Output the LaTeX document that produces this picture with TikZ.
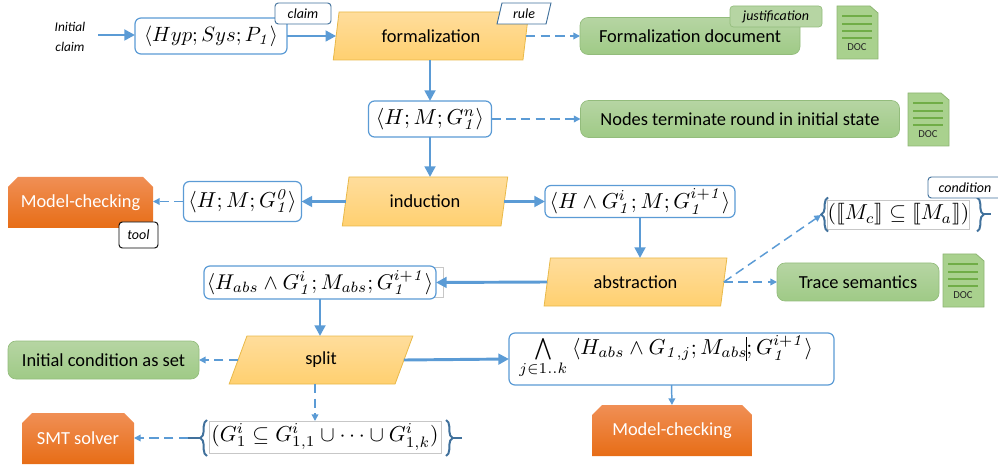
\documentclass[tikz,border=0pt]{standalone}
\usepackage[no-math]{fontspec}
\setmainfont{Carlito}
\usepackage{amsmath,amssymb,stmaryrd,graphicx}
\usetikzlibrary{arrows.meta,shapes.geometric,shapes.misc,decorations.pathreplacing}
\definecolor{lineblue}{HTML}{5B9BD5}
\definecolor{darkblue}{HTML}{41719C}
\newcommand{\mth}[2][1.55]{\scalebox{#1}{$#2$}}
\newcommand{\one}{\mathit{1}}
\newcommand{\docicon}[3]{%
  \fill[draw=docedge,line width=0.6pt,fill=docfill] (#2,#3) -- ++(33,0) -- ++(8,7) -- ++(0,46) -- ++(-41,0) -- cycle;
  \foreach \d in {10,18,25,32} \draw[docline] (#2+5,#3+\d) -- ++(30,0);
  \node[doctext] (#1) at (#2+20,#3+41) {DOC};
}
\definecolor{docfill}{HTML}{A9D18E}
\definecolor{docedge}{HTML}{8DB573}
\tikzset{
  x=0.75pt,y=-0.75pt,
  sz/.style 2 args={minimum width=#1*0.75pt,minimum height=#2*0.75pt,inner sep=0pt,outer sep=0pt},
  formula/.style={draw=lineblue,line width=0.9pt,fill=white,rounded corners=4.5pt},
  frameb/.style={draw=black!22,line width=0.6pt,fill=white},
  rulebox/.style={shape=trapezium,trapezium left angle=76.5,trapezium right angle=103.5,trapezium stretches=true,
    draw=yellowedge,line width=0.6pt,top color=yellowtop,bottom color=yellowbot,font=\fontsize{13.8}{16}\selectfont},
  greenbox/.style={draw=greenedge,line width=0.5pt,top color=greentop,bottom color=greenbot,rounded corners=6pt,font=\fontsize{13.8}{16}\selectfont},
  tool/.style={shape=chamfered rectangle,chamfered rectangle corners={north west,north east},chamfered rectangle xsep=4pt,chamfered rectangle ysep=3.5pt,
    top color=orangetop,middle color=orangemid,bottom color=orangebot,text=white,font=\fontsize{13.8}{16}\selectfont},
  tagb/.style={draw=darkblue,line width=0.7pt,fill=white,rounded corners=2.5pt,font=\fontsize{10.5}{12}\selectfont\itshape},
  thickarr/.style={draw=lineblue,line width=2.2pt,-{Triangle[length=8pt,width=8pt]}},
  thinarr/.style={draw=lineblue,line width=1.1pt,-{Triangle[length=5pt,width=5pt]}},
  dasharr/.style={draw=lineblue,line width=1.1pt,dash pattern=on 7pt off 4pt,-{Triangle[length=5pt,width=5pt,sep=0pt]}},
  bracel/.style={draw=darkblue,line width=1.5pt,decorate,decoration={brace,amplitude=5pt}},
  stub/.style={draw=darkblue,line width=1.5pt},
  docline/.style={draw=docstroke,line width=0.8pt},
  doctext/.style={font=\fontsize{8}{9}\selectfont,inner sep=0pt,text=black!85},
}
\definecolor{docstroke}{HTML}{70AD47}
\definecolor{yellowtop}{HTML}{FFDD9C}
\definecolor{yellowbot}{HTML}{FFD070}
\definecolor{yellowedge}{HTML}{E9B949}
\definecolor{greentop}{HTML}{B6D5A3}
\definecolor{greenbot}{HTML}{9FCA86}
\definecolor{greenedge}{HTML}{93BC7C}
\definecolor{orangetop}{HTML}{F08F55}
\definecolor{orangemid}{HTML}{F27A28}
\definecolor{orangebot}{HTML}{E76D16}
\begin{document}
\begin{tikzpicture}
\clip (0,0) rectangle (998,466);
% top row
\node[align=center,font=\fontsize{10}{14.5}\selectfont\itshape,inner sep=0pt] (init) at (70,37) {Initial\\claim};
\node[formula,sz={152}{36}] (hyp) at (211,36) {\mth{\langle Hyp;Sys;P_{\one}\rangle}};
\node[tagb,sz={56}{21}] (claimt) at (303,13.5) {claim};
\node[rulebox,sz={196}{48}] (form) at (431,36) {formalization};
\node[shape=trapezium,trapezium left angle=76,trapezium right angle=104,trapezium stretches=true,draw=darkblue,line width=0.7pt,fill=white,sz={54}{21},font=\fontsize{10.5}{12}\selectfont\itshape] (rulet) at (524,13.5) {rule};
\node[greenbox,sz={220}{37}] (fdoc) at (690,36) {Formalization document};
\node[draw=greenedge,line width=0.5pt,fill=greentop,rounded corners=2.5pt,sz={92}{21},font=\fontsize{10.5}{12}\selectfont\itshape] (just) at (776,16.5) {justification};
\docicon{doca}{837}{6}
% second row
\node[formula,sz={123}{36}] (hgn) at (430,119) {\mth[1.62]{\langle H;M;G_{\one}^{n}\rangle}};
\node[greenbox,sz={319}{37}] (nodes) at (740,119) {Nodes terminate round in initial state};
\docicon{docb}{908}{93}
% third row
\node[rulebox,sz={166}{49}] (ind) at (425,201.5) {induction};
\node[formula,sz={118}{40}] (hg0) at (242.5,201.5) {\mth[1.62]{\langle H;M;G_{\one}^{\mathit{0}}\rangle}};
\node[tool,sz={145}{51}] (mca) at (80.5,202.5) {\raisebox{-2pt}{Model-checking}};
\node[draw=black,line width=0.7pt,fill=white,rounded corners=2.5pt,sz={39}{26},font=\fontsize{10.5}{12}\selectfont\itshape] (toolt) at (138.5,235) {tool};
\node[formula,sz={190}{32}] (hag) at (640,201.5) {\mth[1.62]{\langle H\wedge G_{\one}^{i};M;G_{\one}^{i+\one}\rangle}};
\node[frameb,sz={139}{29}] (condf) at (898.5,214.5) {\mth[1.62]{(\llbracket M_{c}\rrbracket\subseteq\llbracket M_{a}\rrbracket)}};
\draw[bracel] (828,231.5) -- (828,197.5);
\draw[bracel] (977,197.5) -- (977,231.5);
\coordinate (condl) at (821,215);
\draw[stub] (983,214.5) -- (991,214.5);
\node[tagb,sz={74}{21},anchor=west] (condt) at (928,187.5) {condition};
% fourth row
\node[rulebox,sz={183}{48}] (abst) at (635.5,282) {abstraction};
\node[greenbox,sz={162}{38}] (trace) at (858,282) {Trace semantics};
\docicon{docc}{943}{254}
\node[frameb,sz={235}{30}] (habsf) at (325.5,282) {};
\node[formula,sz={232}{33}] (habs) at (320,282.5) {\mth[1.6]{\langle H_{abs}\wedge G_{\one}^{i};M_{abs};G_{\one}^{i+\one}\rangle}};
% fifth row
\node[rulebox,sz={184}{48}] (split) at (321,360) {split};
\node[greenbox,sz={191}{38}] (icond) at (103.5,360) {Initial condition as set};
\node[formula,sz={325}{52}] (big) at (671.5,359) {};
\node[inner sep=0pt] (bigt) at (666,357) {\mth[1.62]{\mathop{\textstyle\bigwedge}\limits_{j\in 1..k}\ \langle H_{abs}\wedge G_{\one,j};M_{abs}\mkern-1mu\rlap{\rule[-3pt]{0.3pt}{11pt}};G_{\one}^{i+\one}\rangle}};
% bottom row
\node[tool,sz={160}{51}] (mcb) at (672,430.5) {\raisebox{-2pt}{Model-checking}};
\node[tool,sz={112}{51}] (smt) at (78,438.5) {\raisebox{-2pt}{SMT solver}};
\node[frameb,sz={232}{32}] (splitf) at (325,437) {\mth[1.62]{(G_{1}^{i}\subseteq G_{1,1}^{i}\cup\cdots\cup G_{1,k}^{i})}};
\draw[bracel] (207,456) -- (207,420);
\draw[bracel] (446,420) -- (446,456);
\draw[stub] (188,438) -- (200,438);
\draw[stub] (452,438) -- (462,438);
\coordinate (splitl) at (188,438);
% connectors
\coordinate (inite) at (98,35);
\draw[thickarr] (inite) -- (hyp.west |- inite);
\draw[thickarr] (hyp.east) -- (form.left side);
\draw[dasharr] (form.right side) -- (fdoc.west);
\draw[thickarr] (hgn.north |- form.south) -- (hgn.north);
\draw[dasharr] (hgn.east) -- (nodes.west);
\draw[thickarr] (hgn.south) -- (hgn.south |- ind.north);
\draw[thickarr] (ind.left side) -- (hg0.east);
\draw[dasharr] (hg0.west) -- (hg0.west -| mca.east);
\draw[thickarr] (ind.right side) -- (hag.west);
\draw[thickarr] (hag.south) -- (hag.south |- abst.north);
\draw[dasharr] (abst.right side) -- (condl);
\draw[dasharr] (abst.right side) -- (trace.west);
\draw[thickarr] (abst.left side) -- (habs.east);
\draw[thickarr] (habs.south) -- (habs.south |- split.north);
\draw[dasharr] (split.left side) -- (icond.east);
\draw[thickarr] (split.right side) -- (big.west);
\draw[thinarr] (big.south) -- (mcb.north);
\coordinate (splitb) at (315,384);
\draw[dasharr] (splitb) -- (splitb |- splitf.north);
\draw[dasharr] (splitl) -- (smt.east |- splitl);
\end{tikzpicture}
\end{document}
